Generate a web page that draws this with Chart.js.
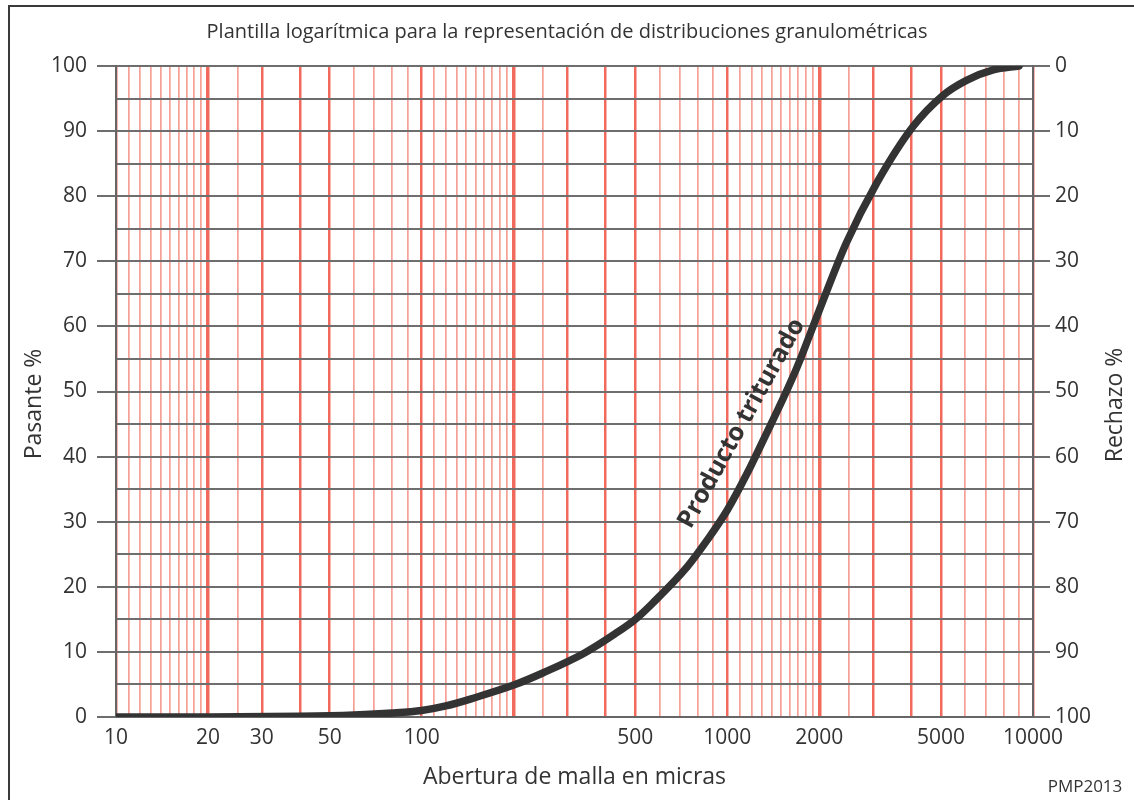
<!DOCTYPE html>
<html>
<head>
<meta charset="utf-8">
<script src="https://cdn.jsdelivr.net/npm/chart.js@4"></script>
<style>
  html, body { margin: 0; padding: 0; background: #fff; overflow: hidden; }
  #wrap { position: relative; width: 1134px; height: 800px; }
  #marco { position: absolute; left: 8px; top: 5px; width: 1300px; height: 900px;
           border-top: 2px solid #3a3a3a; border-left: 2px solid #3a3a3a; pointer-events: none; }
</style>
</head>
<body>
<div id="wrap">
  <canvas id="chartGranulo" width="1134" height="800"></canvas>
  <div id="marco"></div>
</div>
<script>
// abertura de malla (micras) y % pasante de la curva
const apertura = [10, 20, 40, 60, 80, 100, 120, 150, 200, 250, 340, 430, 500, 570, 740, 860, 1000, 1160, 1310, 1560, 1690, 2000, 2450, 3080, 4050, 5080, 6060, 7410, 9000];
const pasante  = [0, 0, 0.1, 0.3, 0.6, 1.0, 1.7, 3.0, 4.9, 6.8, 9.8, 12.8, 15.0, 17.5, 23.1, 27.2, 31.8, 37.4, 42.5, 50.0, 53.7, 62.5, 72.8, 82.0, 90.7, 95.5, 97.8, 99.4, 100];

// lineas rojas verticales (por decada) y etiquetas del eje x
const divisiones = [1, 1.1, 1.2, 1.3, 1.4, 1.5, 1.6, 1.7, 1.8, 1.9, 2, 2.5, 3, 4, 5, 6, 7, 8, 9];
const decadas = [10, 100, 1000];
const etiquetasX = [10, 20, 30, 50, 100, 500, 1000, 2000, 5000, 10000];
const fuertes = [1, 2, 3, 4, 5];

const lineasX = [];
decadas.forEach(d => divisiones.forEach(m => lineasX.push(Math.round(d * m))));
lineasX.push(10000);

const posEtiqueta = [1114, 45.1];

Chart.defaults.font.family = '"Open Sans", "Noto Sans", sans-serif';
Chart.defaults.color = '#333';

const esFuerte = v => {
  const m = v / Math.pow(10, Math.floor(Math.log10(v)));
  return fuertes.some(f => Math.abs(m - f) < 1e-6);
};

const textos = {
  id: 'textos',
  afterDatasetsDraw(chart) {
    const {ctx, scales: {x, y}} = chart;
    ctx.save();
    ctx.translate(x.getPixelForValue(posEtiqueta[0]), y.getPixelForValue(posEtiqueta[1]));
    ctx.rotate(-61 * Math.PI / 180);
    ctx.font = 'bold 25px "Open Sans"';
    ctx.fillStyle = '#333';
    ctx.textAlign = 'center';
    ctx.textBaseline = 'middle';
    ctx.fillText('Producto triturado', 0, 0);
    ctx.restore();
  },
  afterDraw(chart) {
    const {ctx} = chart;
    ctx.save();
    ctx.fillStyle = '#333';
    ctx.textAlign = 'center';
    ctx.textBaseline = 'middle';
    ctx.font = '23px "Open Sans"';
    ctx.save();
    ctx.translate(34, 404);
    ctx.rotate(-Math.PI / 2);
    ctx.fillText('Pasante %', 0, 0);
    ctx.restore();
    ctx.save();
    ctx.translate(1115, 405);
    ctx.rotate(-Math.PI / 2);
    ctx.fillText('Rechazo %', 0, 0);
    ctx.restore();
    ctx.font = '17px "Open Sans"';
    ctx.fillText('PMP2013', 1085, 787);
    ctx.restore();
  }
};

const ctxG = document.getElementById('chartGranulo').getContext('2d');
const chartGranulo = new Chart(ctxG, {
  type: 'line',
  data: {
    datasets: [{
      data: apertura.map((a, i) => ({x: a, y: pasante[i]})),
      borderColor: '#333',
      borderWidth: 7.5,
      borderCapStyle: 'round',
      borderJoinStyle: 'round',
      pointRadius: 0,
      cubicInterpolationMode: 'monotone',
      fill: false
    }]
  },
  options: {
    responsive: false,
    animation: false,
    layout: { padding: 0 },
    plugins: {
      legend: { display: false },
      tooltip: { enabled: false },
      title: {
        display: true,
        text: 'Plantilla logarítmica para la representación de distribuciones granulométricas',
        font: { size: 20, weight: 'normal' },
        color: '#333',
        padding: { top: 20, bottom: 22 }
      }
    },
    scales: {
      x: {
        type: 'logarithmic',
        min: 10,
        max: 10000,
        z: -1,
        afterBuildTicks: s => { s.ticks = lineasX.map(v => ({value: v})); },
        afterFit: s => { s.height = 83; },
        ticks: {
          autoSkip: false,
          maxRotation: 0,
          padding: 8,
          font: { size: 21 },
          color: '#333',
          callback: v => etiquetasX.includes(v) ? String(v) : ''
        },
        grid: {
          drawTicks: false,
          color: c => esFuerte(c.tick.value) ? '#f26a5c' : '#f6a096',
          lineWidth: c => {
            const v = c.tick.value;
            if (!esFuerte(v)) return 1.7;
            return [20, 200, 2000].includes(v) ? 3.5 : 2.5;
          }
        },
        border: { display: true, color: '#666', width: 2 },
        title: {
          display: true,
          text: 'Abertura de malla en micras',
          font: { size: 23 },
          color: '#333',
          padding: { top: 0, bottom: 9 }
        }
      },
      y: {
        min: 0,
        max: 100,
        afterFit: s => { s.width = 116; },
        ticks: {
          stepSize: 5,
          padding: 10,
          font: { size: 21 },
          color: '#333',
          callback: v => v % 10 === 0 ? String(v) : ''
        },
        grid: {
          color: '#6e6e6e',
          lineWidth: 2,
          tickLength: 19,
          tickColor: c => c.tick.value % 10 === 0 ? '#6e6e6e' : 'rgba(0,0,0,0)'
        },
        border: { display: true, color: '#666', width: 2 }
      },
      y2: {
        position: 'right',
        min: 0,
        max: 100,
        reverse: true,
        afterFit: s => { s.width = 101; },
        ticks: {
          stepSize: 10,
          padding: 5,
          font: { size: 21 },
          color: '#333'
        },
        grid: {
          drawOnChartArea: false,
          color: '#6e6e6e',
          lineWidth: 2,
          tickLength: 17
        },
        border: { display: true, color: '#666', width: 2 }
      }
    }
  },
  plugins: [textos]
});
</script>
</body>
</html>
